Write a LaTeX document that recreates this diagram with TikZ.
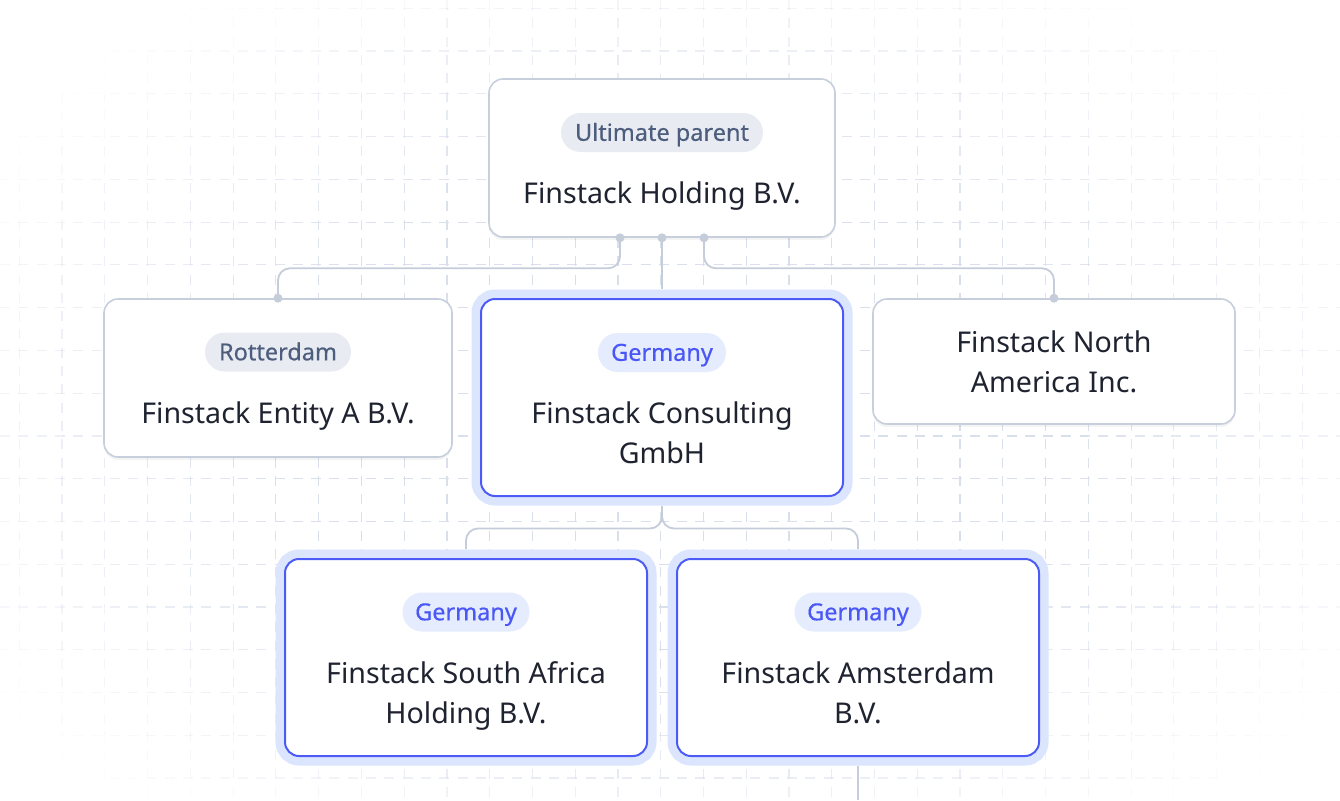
\documentclass[tikz,border=0pt]{standalone}
\usepackage{fontspec}
\setmainfont{Noto Sans}
\newfontface\pillface{Noto Sans}[FakeBold=0.45]
\usetikzlibrary{calc}
\definecolor{gridc}{HTML}{D9DFEB}
\definecolor{boxb}{HTML}{C7CFDD}
\definecolor{connc}{HTML}{C5CDDB}
\definecolor{selb}{HTML}{4C5AF6}
\definecolor{glowc}{HTML}{DBE5FD}
\definecolor{maintext}{HTML}{1F2330}
\definecolor{pillgf}{HTML}{E8ECF2}
\definecolor{pillgt}{HTML}{4D5D7D}
\definecolor{pillbf}{HTML}{E4ECFE}
\definecolor{pillbt}{HTML}{4A57F5}
\tikzset{
  card/.style={draw=boxb, line width=1.6pt, fill=white, rounded corners=14pt, inner sep=0pt,
    preaction={fill=black, fill opacity=0.045, transform canvas={yshift=-3pt}}},
  selcard/.style={draw=selb, line width=2pt, fill=white, rounded corners=14pt, inner sep=0pt,
    preaction={draw=glowc, line width=19pt}},
  pill/.style={rounded corners=19.5pt, minimum height=39pt, inner sep=0pt,
    font=\pillface\fontsize{23.5}{27}\selectfont, text height=16.6pt, text depth=0pt},
  pillgray/.style={pill, fill=pillgf, text=pillgt},
  pillblue/.style={pill, fill=pillbf, text=pillbt},
  maintxt/.style={anchor=base, inner sep=0pt, text=maintext, font=\fontsize{28.6}{32}\selectfont},
  conn/.style={draw=connc, line width=1.8pt, rounded corners=12pt},
  cdot/.style={fill=connc, draw=none}
}
\begin{document}
\begin{tikzpicture}[x=1pt,y=-1pt]
\useasboundingbox (0,0) rectangle (1340,800);
\fill[white] (0,0) rectangle (1340,800);
% background grid, fading toward the edges
\foreach \k in {0,...,31}{
  \foreach \j in {-1,...,18}{
    \pgfmathsetmacro\xa{19.33+42.76*\k}
    \pgfmathsetmacro\ya{8.33+42.76*\j}
    \pgfmathsetmacro\yb{\ya+42.76}
    \pgfmathsetmacro\ym{\ya+21.38}
    \pgfmathsetmacro\op{max(0,min(1,(1.22-sqrt(((\xa-670)/670)^2+((\ym-420)/420)^2))/0.65))}
    \draw[gridc, line width=1.2pt, draw opacity=\op, dash pattern=on 10pt off 8.3pt, dash phase=\ya pt] (\xa,\ya) -- (\xa,\yb);
  }
}
\foreach \j in {0,...,18}{
  \foreach \k in {-1,...,31}{
    \pgfmathsetmacro\ya{8.33+42.76*\j}
    \pgfmathsetmacro\xa{19.33+42.76*\k}
    \pgfmathsetmacro\xb{\xa+42.76}
    \pgfmathsetmacro\xm{\xa+21.38}
    \pgfmathsetmacro\op{max(0,min(1,(1.22-sqrt(((\xm-670)/670)^2+((\ya-420)/420)^2))/0.65))}
    \draw[gridc, line width=1.2pt, draw opacity=\op, dash pattern=on 10pt off 8.3pt, dash phase=\xa pt] (\xa,\ya) -- (\xb,\ya);
  }
}
% cards
\node[card, minimum width=346pt, minimum height=158pt] (top) at (662,158) {};
\node[card, minimum width=348pt, minimum height=158pt] (rot) at (278,378) {};
\node[selcard, minimum width=362pt, minimum height=197pt] (cons) at (662,397.5) {};
\node[card, minimum width=362pt, minimum height=125pt] (na) at (1054,361.5) {};
\node[selcard, minimum width=362pt, minimum height=197pt] (sa) at (466,657.5) {};
\node[selcard, minimum width=362pt, minimum height=197pt] (ams) at (858,657.5) {};
% tags
\node[pillgray, minimum width=202pt] (topP) at (662,132.5) {Ultimate parent};
\node[pillgray, minimum width=146pt] (rotP) at (278,352) {Rotterdam};
\node[pillblue, minimum width=128pt] (consP) at (662,352.5) {Germany};
\node[pillblue, minimum width=127pt] (saP) at (466,612) {Germany};
\node[pillblue, minimum width=127pt] (amsP) at (858,612) {Germany};
% names
\node[maintxt] (topT) at (662,203.3) {Finstack Holding B.V.};
\node[maintxt] (rotT) at (278,423.3) {Finstack Entity A B.V.};
\node[maintxt] (consT1) at (662,423.7) {Finstack Consulting};
\node[maintxt] (consT2) at (662,463.7) {GmbH};
\node[maintxt] (naT1) at (1054,352.7) {Finstack North};
\node[maintxt] (naT2) at (1054,392.7) {America Inc.};
\node[maintxt] (saT1) at (466,683.7) {Finstack South Africa};
\node[maintxt] (saT2) at (466,723.7) {Holding B.V.};
\node[maintxt] (amsT1) at (858,683.7) {Finstack Amsterdam};
\node[maintxt] (amsT2) at (858,723.7) {B.V.};
% connectors
\coordinate (tL) at ($(top.south)+(-42,0)$);
\coordinate (tR) at ($(top.south)+(42,0)$);
\coordinate (end) at (858,800);
\draw[conn] (tL) -- ++(0,30.5) -| (rot.north);
\draw[conn] (tR) -- ++(0,30.5) -| (na.north);
\draw[conn, shorten >=9pt] (top.south) -- (cons.north);
\draw[conn, shorten <=9pt, shorten >=9pt] (cons.south) -- ++(0,31.5) -| (sa.north);
\draw[conn, shorten <=9pt, shorten >=9pt] (cons.south) -- ++(0,31.5) -| (ams.north);
\draw[conn, shorten <=9pt] (ams.south) -- (end);
\fill[cdot] (tL) circle (4.5);
\fill[cdot] (top.south) circle (4.5);
\fill[cdot] (tR) circle (4.5);
\fill[cdot] (rot.north) circle (4.5);
\fill[cdot] (na.north) circle (4.5);
\end{tikzpicture}
\end{document}
